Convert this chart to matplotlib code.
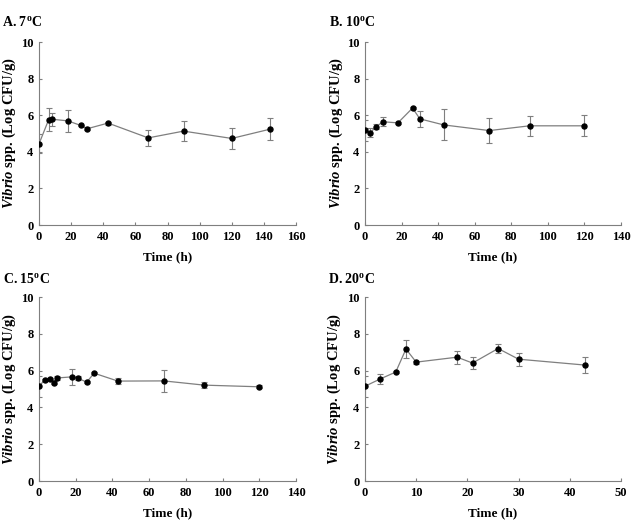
import matplotlib
matplotlib.use("Agg")
import matplotlib.pyplot as plt

plt.rcParams['font.family'] = ['Liberation Serif', 'DejaVu Serif']
plt.rcParams['mathtext.fontset'] = 'custom'
plt.rcParams['mathtext.rm'] = 'Liberation Serif:bold'
plt.rcParams['mathtext.bf'] = 'Liberation Serif:bold'
plt.rcParams['mathtext.it'] = 'Liberation Serif:italic:bold'

# Panel A: 7 C
time_a = [0, 6, 8, 18, 26, 30, 43, 68, 90, 120, 144]
vib_a = [4.43, 5.75, 5.78, 5.69, 5.44, 5.26, 5.57, 4.76, 5.13, 4.73, 5.24]
err_a = [0.52, 0.62, 0.35, 0.60, 0.05, 0.08, 0.08, 0.45, 0.55, 0.58, 0.62]

# Panel B: 10 C
time_b = [0, 3, 6, 10, 18, 26, 30, 43, 68, 90, 120]
vib_b = [5.18, 5.05, 5.38, 5.64, 5.58, 6.39, 5.80, 5.47, 5.16, 5.42, 5.42]
err_b = [0.58, 0.23, 0.12, 0.25, 0.04, 0.04, 0.45, 0.85, 0.68, 0.56, 0.58]

# Panel C: 15 C
time_c = [0, 3, 6, 8, 10, 18, 21, 26, 30, 43, 68, 90, 120]
vib_c = [5.15, 5.48, 5.54, 5.35, 5.60, 5.66, 5.60, 5.37, 5.86, 5.43, 5.44, 5.21, 5.12]
err_c = [0.58, 0.05, 0.06, 0.06, 0.12, 0.43, 0.12, 0.04, 0.05, 0.16, 0.58, 0.15, 0.09]

# Panel D: 20 C
time_d = [0, 3, 6, 8, 10, 18, 21, 26, 30, 43]
vib_d = [5.15, 5.55, 5.92, 7.17, 6.46, 6.73, 6.41, 7.20, 6.62, 6.30]
err_d = [0.57, 0.27, 0.06, 0.47, 0.08, 0.35, 0.35, 0.25, 0.35, 0.43]

titles = [r"A. 7$^{\mathrm{o}}$C", r"B. 10$^{\mathrm{o}}$C",
          r"C. 15$^{\mathrm{o}}$C", r"D. 20$^{\mathrm{o}}$C"]
xmaxes = [160, 140, 140, 50]
xsteps = [20, 20, 20, 10]

W, H = 631, 525
fig = plt.figure(figsize=(W / 100, H / 100), dpi=100)

# axes boxes in pixels: left, top, right, bottom
boxes = [(39, 42, 296, 225), (365, 42, 621, 225),
         (39, 297, 296, 481), (365, 297, 621, 481)]
title_pos = [(2, 22), (329, 22), (3, 279), (328, 279)]
ylab_x = [9, 336, 9, 334]
xlab_y = [257, 257, 513, 513]

data = [(time_a, vib_a, err_a), (time_b, vib_b, err_b),
        (time_c, vib_c, err_c), (time_d, vib_d, err_d)]

gray = '#7f7f7f'
for i, (t, v, e) in enumerate(data):
    l, tp, r, b = boxes[i]
    ax = fig.add_axes([l / W, 1 - b / H, (r - l) / W, (b - tp) / H])
    ax.errorbar(t, v, yerr=e, fmt='none', ecolor=gray, elinewidth=0.8,
                capsize=2.5, capthick=0.8, zorder=2)
    ax.plot(t, v, color=gray, lw=0.9, marker='o', ms=3.6,
            mfc='black', mec='black', zorder=3)
    ax.set_xlim(0, xmaxes[i])
    ax.set_ylim(0, 10)
    ax.set_xticks(range(0, xmaxes[i] + 1, xsteps[i]))
    ax.set_yticks(range(0, 11, 2))
    for s in ['top', 'right']:
        ax.spines[s].set_visible(False)
    for s in ['left', 'bottom']:
        ax.spines[s].set_color(gray)
        ax.spines[s].set_linewidth(0.8)
    ax.tick_params(axis='both', direction='in', length=2.5, width=0.8,
                   color=gray, labelsize=9, pad=4)
    for lab in ax.get_xticklabels() + ax.get_yticklabels():
        lab.set_fontweight('bold')
    fig.text(title_pos[i][0] / W, 1 - title_pos[i][1] / H, titles[i],
             fontsize=10, fontweight='bold', ha='left', va='center')
    fig.text(ylab_x[i] / W, 1 - ((tp + b) / 2) / H,
             r"$\mathit{Vibrio}$ spp. (Log CFU/g)", rotation=90,
             fontsize=10.5, fontweight='bold', ha='center', va='center')
    fig.text(((l + r) / 2) / W, 1 - xlab_y[i] / H, "Time (h)",
             fontsize=9.5, fontweight='bold', ha='center', va='center')

fig.savefig("out.png", dpi=100)
